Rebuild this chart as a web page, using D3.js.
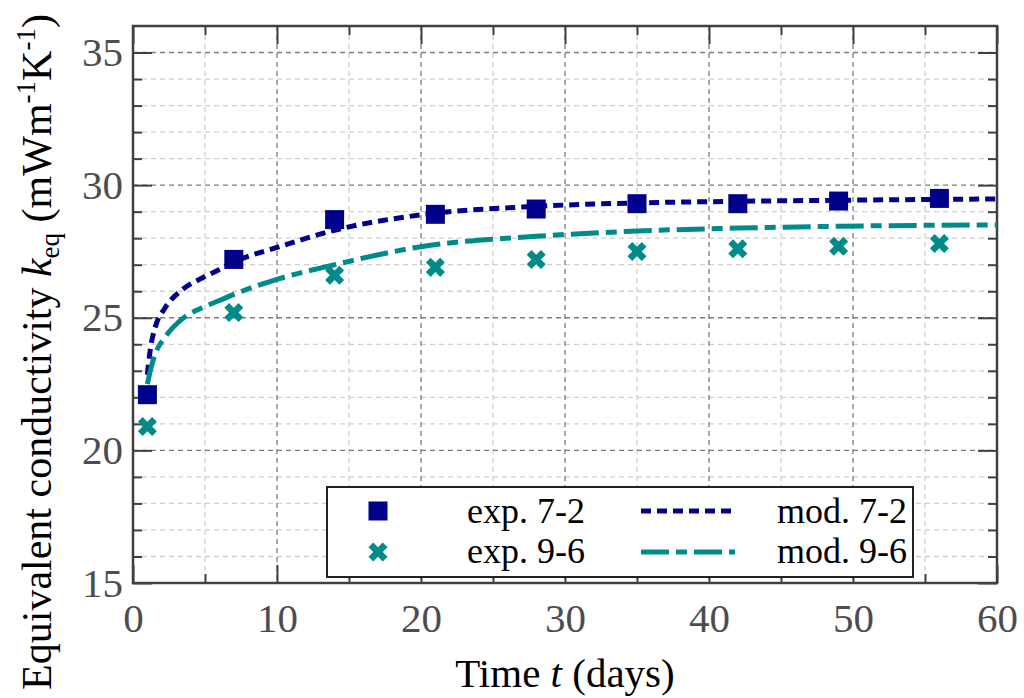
<!DOCTYPE html>
<html>
<head>
<meta charset="utf-8">
<script src="https://cdn.jsdelivr.net/npm/d3@7"></script>
<style>
  svg text, svg tspan { font-family: 'Liberation Serif', 'Times New Roman', Times, Tinos; }
</style>
</head>
<body style="margin:0">
<div id="chart"></div>
<script>
// measured points (days)
const days = [1, 7, 14, 21, 28, 35, 42, 49, 56];
const exp72 = [22.1, 27.2, 28.7, 28.9, 29.1, 29.3, 29.3, 29.4, 29.5];
const exp96 = [20.9, 25.2, 26.6, 26.9, 27.2, 27.5, 27.6, 27.7, 27.8];

// model curves
const modDays = [1, 1.2, 1.55, 2.2, 3.4, 4.8, 6, 7, 10, 14, 20, 28, 35, 42, 49, 60];
const mod72 = [22.85, 23.8, 24.65, 25.35, 26.05, 26.5, 26.82, 27.1, 27.65, 28.3, 28.88, 29.2, 29.33, 29.39, 29.43, 29.48];
const mod96 = [22.5, 23.0, 23.65, 24.25, 24.95, 25.38, 25.65, 25.88, 26.45, 27.0, 27.68, 28.07, 28.27, 28.38, 28.45, 28.5];

const xMajor = [0, 10, 20, 30, 40, 50, 60];
const xMinor = [5, 15, 25, 35, 45, 55];
const yMajor = [15, 20, 25, 30, 35];
const yMinor = d3.range(16, 36).filter(v => v % 5 !== 0);

const navy = "#00008b", teal = "#008b8b", axisCol = "#404040";
const fontName = "Liberation Serif";

const width = 1024, height = 698;
const margin = {top: 26, right: 27, bottom: 115, left: 133};
const w = width - margin.left - margin.right;
const h = height - margin.top - margin.bottom;

const svg = d3.select("#chart").append("svg")
    .attr("width", width)
    .attr("height", height)
    .attr("font-family", fontName);

const g = svg.append("g")
    .attr("transform", "translate(" + margin.left + "," + margin.top + ")");

const x = d3.scaleLinear().domain([0, 60]).range([0, w]);
const y = d3.scaleLinear().domain([15, 36]).range([h, 0]);

function serifText(sel, size) {
    sel.attr("font-family", fontName)
        .style("font-family", "'" + fontName + "'")
        .style("font-size", size + "px");
}

// grid
function hGrid(vals, col) {
    g.append("g").selectAll("line")
        .data(vals)
        .join("line")
        .attr("x1", 0).attr("x2", w)
        .attr("y1", d => y(d)).attr("y2", d => y(d))
        .attr("stroke", col).attr("stroke-width", 1.3)
        .attr("stroke-dasharray", "5,4");
}
function vGrid(vals, col) {
    g.append("g").selectAll("line")
        .data(vals)
        .join("line")
        .attr("x1", d => x(d)).attr("x2", d => x(d))
        .attr("y1", 0).attr("y2", h)
        .attr("stroke", col).attr("stroke-width", 1.3)
        .attr("stroke-dasharray", "5,4");
}
hGrid(yMinor, "#cfcfcf");
vGrid(xMinor, "#cfcfcf");
hGrid(yMajor, "#7a7a7a");
vGrid(xMajor, "#7a7a7a");

// ticks (inward) on all four sides
function styleAxis(sel) {
    sel.attr("font-family", fontName);
    sel.select(".domain").remove();
    sel.selectAll("line").attr("stroke", axisCol).attr("stroke-width", 2);
    sel.selectAll("text")
        .attr("fill", "#4d4d4d")
        .call(serifText, 41);
}
g.append("g").attr("transform", "translate(0," + h + ")")
    .call(d3.axisBottom(x).tickValues(xMajor).tickSize(-18).tickPadding(20).tickFormat(d3.format("d")))
    .call(styleAxis);
g.append("g").attr("transform", "translate(0," + h + ")")
    .call(d3.axisBottom(x).tickValues(xMinor).tickSize(-9).tickFormat(""))
    .call(styleAxis);
g.append("g")
    .call(d3.axisTop(x).tickValues(xMajor).tickSize(-18).tickFormat(""))
    .call(styleAxis);
g.append("g")
    .call(d3.axisTop(x).tickValues(xMinor).tickSize(-9).tickFormat(""))
    .call(styleAxis);
g.append("g")
    .call(d3.axisLeft(y).tickValues(yMajor).tickSize(-19).tickPadding(10).tickFormat(d3.format("d")))
    .call(styleAxis);
g.append("g")
    .call(d3.axisLeft(y).tickValues(yMinor).tickSize(-9).tickFormat(""))
    .call(styleAxis);
g.append("g").attr("transform", "translate(" + w + ",0)")
    .call(d3.axisRight(y).tickValues(yMajor).tickSize(-19).tickFormat(""))
    .call(styleAxis);
g.append("g").attr("transform", "translate(" + w + ",0)")
    .call(d3.axisRight(y).tickValues(yMinor).tickSize(-9).tickFormat(""))
    .call(styleAxis);

// frame
g.append("rect")
    .attr("width", w).attr("height", h)
    .attr("fill", "none")
    .attr("stroke", axisCol).attr("stroke-width", 2.5);

// model lines
const line = d3.line()
    .x(d => x(d[0]))
    .y(d => y(d[1]))
    .curve(d3.curveMonotoneX);

g.append("path")
    .datum(d3.zip(modDays, mod72))
    .attr("d", line)
    .attr("fill", "none")
    .attr("stroke", navy).attr("stroke-width", 5)
    .attr("stroke-dasharray", "10,6");
g.append("path")
    .datum(d3.zip(modDays, mod96))
    .attr("d", line)
    .attr("fill", "none")
    .attr("stroke", teal).attr("stroke-width", 5)
    .attr("stroke-dasharray", "28,7,11,7");

// markers
const square = d3.symbol().type(d3.symbolSquare).size(361);
const cross = d3.symbol().type(d3.symbolCross).size(226);

g.append("g").selectAll("path")
    .data(d3.zip(days, exp72))
    .join("path")
    .attr("d", square)
    .attr("transform", d => "translate(" + x(d[0]) + "," + y(d[1]) + ")")
    .attr("fill", navy);
g.append("g").selectAll("path")
    .data(d3.zip(days, exp96))
    .join("path")
    .attr("d", cross)
    .attr("transform", d => "translate(" + x(d[0]) + "," + y(d[1]) + ") rotate(45)")
    .attr("fill", teal);

// legend
const lg = svg.append("g");
lg.append("rect")
    .attr("x", 327).attr("y", 487)
    .attr("width", 586).attr("height", 90)
    .attr("fill", "#fff")
    .attr("stroke", "#222").attr("stroke-width", 2);

lg.append("path").attr("d", square)
    .attr("transform", "translate(378,511)").attr("fill", navy);
lg.append("path").attr("d", cross)
    .attr("transform", "translate(378,552) rotate(45)").attr("fill", teal);
lg.append("line")
    .attr("x1", 641).attr("x2", 735).attr("y1", 511).attr("y2", 511)
    .attr("stroke", navy).attr("stroke-width", 5).attr("stroke-dasharray", "10,6");
lg.append("line")
    .attr("x1", 641).attr("x2", 735).attr("y1", 552).attr("y2", 552)
    .attr("stroke", teal).attr("stroke-width", 5).attr("stroke-dasharray", "28,7,11,7");

const legText = [["exp. 7-2", 467, 523], ["exp. 9-6", 467, 563], ["mod. 7-2", 777, 523], ["mod. 9-6", 777, 563]];
lg.selectAll("text.leg")
    .data(legText)
    .join("text")
    .attr("class", "leg")
    .attr("x", d => d[1]).attr("y", d => d[2])
    .call(serifText, 36)
    .attr("fill", "#000")
    .text(d => d[0]);

// axis titles
svg.append("text")
    .attr("x", margin.left + w / 2)
    .attr("y", 687)
    .attr("text-anchor", "middle")
    .call(serifText, 41)
    .call(t => {
        t.append("tspan").text("Time ");
        t.append("tspan").style("font-style", "italic").text("t");
        t.append("tspan").text(" (days)");
    });

const yt = svg.append("text")
    .attr("transform", "translate(51,352) rotate(-90)")
    .attr("text-anchor", "middle")
    .call(serifText, 42);
yt.append("tspan").text("Equivalent conductivity ");
yt.append("tspan").style("font-style", "italic").text("k");
yt.append("tspan").attr("dy", 8).style("font-size", "27px").text("eq");
yt.append("tspan").attr("dy", -8).text(" (mWm");
yt.append("tspan").attr("dy", -16).style("font-size", "27px").text("-1");
yt.append("tspan").attr("dy", 16).text("K");
yt.append("tspan").attr("dy", -16).style("font-size", "27px").text("-1");
yt.append("tspan").attr("dy", 16).text(")");
</script>
</body>
</html>
